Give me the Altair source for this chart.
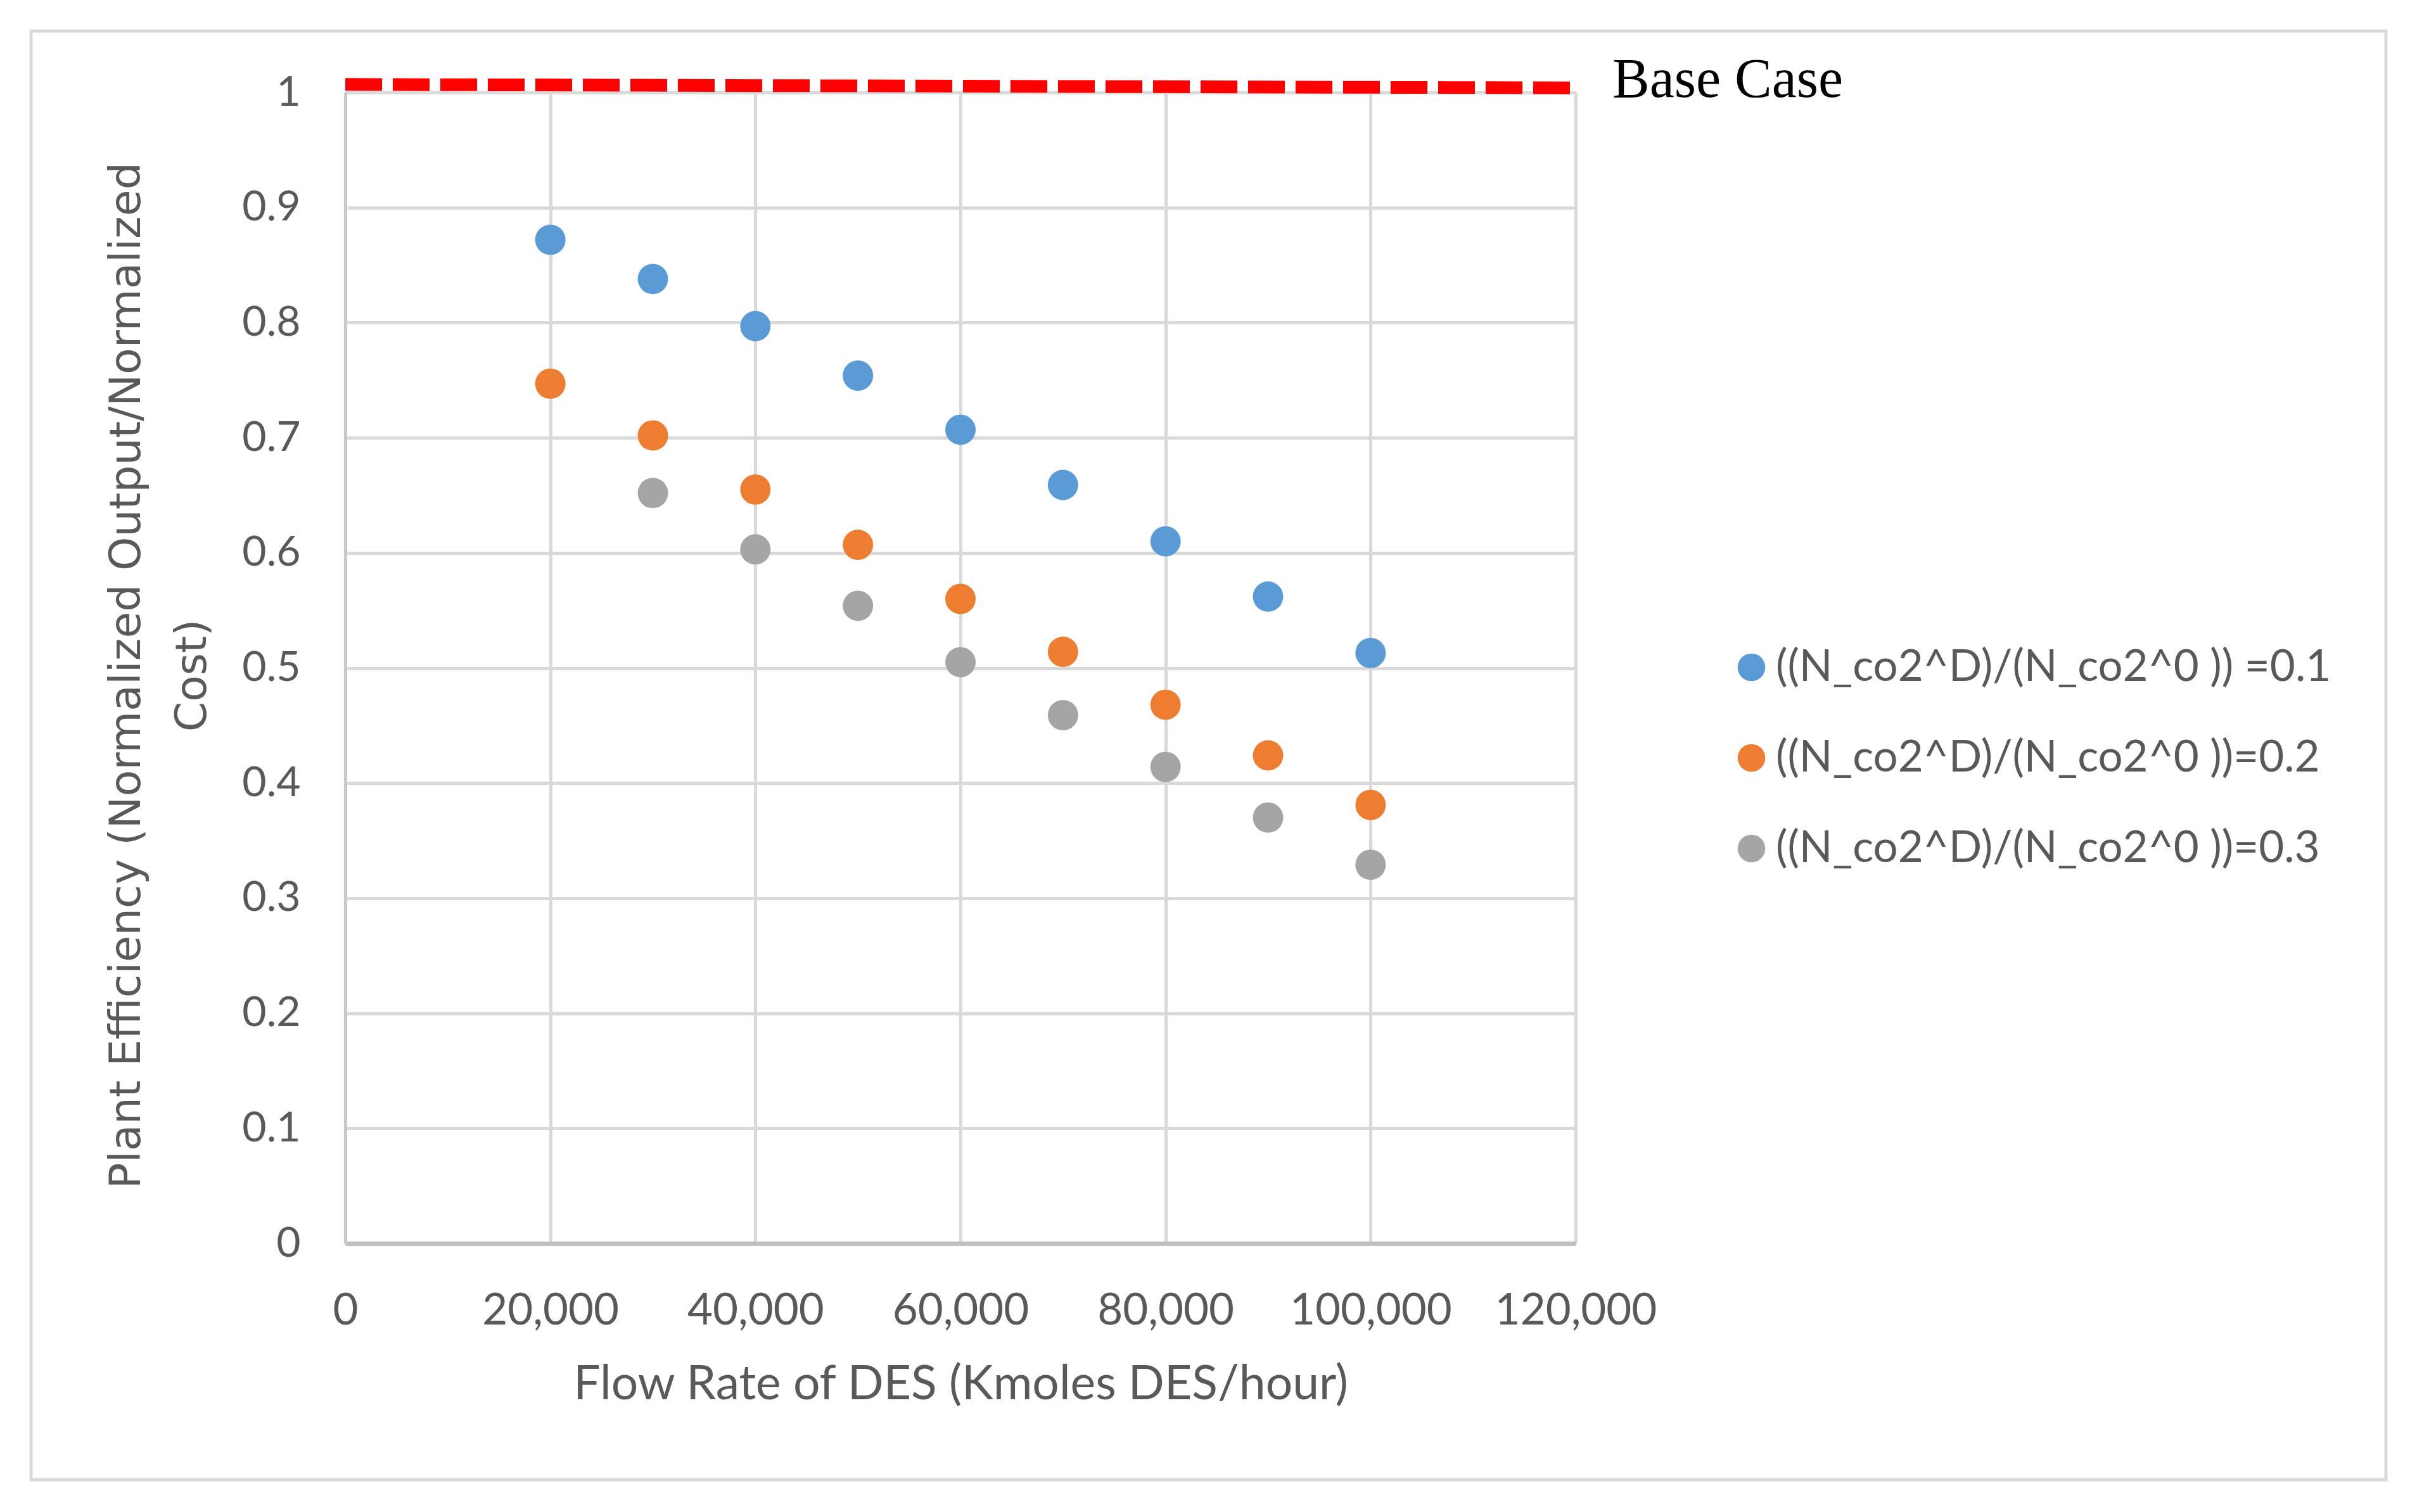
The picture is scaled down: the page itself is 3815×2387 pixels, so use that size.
import altair as alt
import pandas as pd

flow = [20000, 30000, 40000, 50000, 60000, 70000, 80000, 90000, 100000]
s1_name = "((N_co2^D)/(N_co2^0 )) =0.1"
s2_name = "((N_co2^D)/(N_co2^0 ))=0.2"
s3_name = "((N_co2^D)/(N_co2^0 ))=0.3"
s1_vals = [0.872, 0.838, 0.797, 0.754, 0.707, 0.659, 0.610, 0.562, 0.513]
s2_vals = [0.747, 0.702, 0.655, 0.607, 0.560, 0.514, 0.468, 0.424, 0.381]
s3_flow = [30000, 40000, 50000, 60000, 70000, 80000, 90000, 100000]
s3_vals = [0.652, 0.603, 0.554, 0.505, 0.459, 0.414, 0.370, 0.329]
base_x = [0, 120000]
base_y = [1.007, 1.004]
series_names = [s1_name, s2_name, s3_name]
series_colors = ["#5B9BD5", "#ED7D31", "#A5A5A5"]

rows = []
for x, y in zip(flow, s1_vals):
    rows.append({"flow": x, "eff": y, "series": s1_name})
for x, y in zip(flow, s2_vals):
    rows.append({"flow": x, "eff": y, "series": s2_name})
for x, y in zip(s3_flow, s3_vals):
    rows.append({"flow": x, "eff": y, "series": s3_name})
df = pd.DataFrame(rows)
base_df = pd.DataFrame({"flow": base_x, "eff": base_y})
label_df = pd.DataFrame({"flow": [120000], "eff": [1.004], "text": ["Base Case"]})

W, H = 1942, 1817

xscale = alt.Scale(domain=[0, 120000], nice=False, zero=True)
yscale = alt.Scale(domain=[0, 1], nice=False)

xaxis = alt.Axis(
    values=[0, 20000, 40000, 60000, 80000, 100000, 120000],
    labelExpr="format(datum.value, ',')",
    title="Flow Rate of DES (Kmoles DES/hour)",
    titleFont="Lato", titleFontSize=75, titleFontWeight="normal", titleColor="#595959",
    titleBaseline="middle", titleY=222, titleX=W / 2,
    labelFont="Lato", labelFontSize=69, labelColor="#595959",
    labelPadding=106, labelBaseline="middle", labelLimit=1000, labelOverlap=False,
    labelFlush=False, labelBound=False,
    ticks=False, tickSize=0,
    grid=True, gridColor="#d9d9d9", gridWidth=5,
    domainColor="#bfbfbf", domainWidth=7,
)
yaxis = alt.Axis(
    values=[0, 0.1, 0.2, 0.3, 0.4, 0.5, 0.6, 0.7, 0.8, 0.9, 1.0],
    labelExpr="format(datum.value, '.1~f')",
    title=["Plant Efficiency (Normalized Output/Normalized", "Cost)"],
    titleFont="DejaVu Sans", titleFontSize=68, titleFontWeight="normal", titleColor="#595959",
    titleLineHeight=104, titleBaseline="middle", titleAngle=-90,
    titleX=-345, titleY=920,
    labelFont="Lato", labelFontSize=66, labelColor="#595959",
    labelPadding=71, labelBaseline="middle", labelOverlap=False,
    labelFlush=False, labelBound=False,
    ticks=False, tickSize=0,
    grid=True, gridColor="#d9d9d9", gridWidth=5,
    domainColor="#c8c8c8", domainWidth=5,
)

border = alt.Chart(pd.DataFrame({"a": [0]})).mark_rect(
    fillOpacity=0, stroke="#d9d9d9", strokeWidth=5
).encode(
    x=alt.value(-496), x2=alt.value(3221), y=alt.value(-97), y2=alt.value(2190)
)

points = alt.Chart(df).mark_circle(size=2300, opacity=1).encode(
    x=alt.X("flow:Q", scale=xscale, axis=xaxis),
    y=alt.Y("eff:Q", scale=yscale, axis=yaxis),
    color=alt.Color(
        "series:N",
        scale=alt.Scale(domain=series_names, range=series_colors),
        legend=alt.Legend(
            title=None, orient="none", legendX=2185, legendY=873,
            labelFont="Lato", labelFontSize=69, labelColor="#595959",
            symbolType="circle", symbolSize=1900, symbolStrokeWidth=0,
            labelOffset=4, rowPadding=73, padding=0, labelLimit=2000,
        ),
    ),
)

base = alt.Chart(base_df).mark_line(
    color="#FF0000", strokeWidth=20, strokeDash=[58, 17], strokeCap="butt"
).encode(
    x=alt.X("flow:Q", scale=xscale, axis=xaxis),
    y=alt.Y("eff:Q", scale=yscale, axis=yaxis),
)

label = alt.Chart(label_df).mark_text(
    font="Liberation Serif", fontSize=88, color="black", align="left", baseline="middle", dx=58, dy=-12
).encode(
    x=alt.X("flow:Q", scale=xscale, axis=xaxis),
    y=alt.Y("eff:Q", scale=yscale, axis=yaxis),
    text="text:N",
)

chart = alt.layer(border, points, base, label).properties(
    width=W, height=H,
    autosize=alt.AutoSizeParams(type="none"),
    padding={"left": 537, "top": 138, "right": 1320, "bottom": 416},
    background="white",
).configure_view(stroke=None)

chart.save("out.html", embed_options={"renderer": "svg", "actions": False})
